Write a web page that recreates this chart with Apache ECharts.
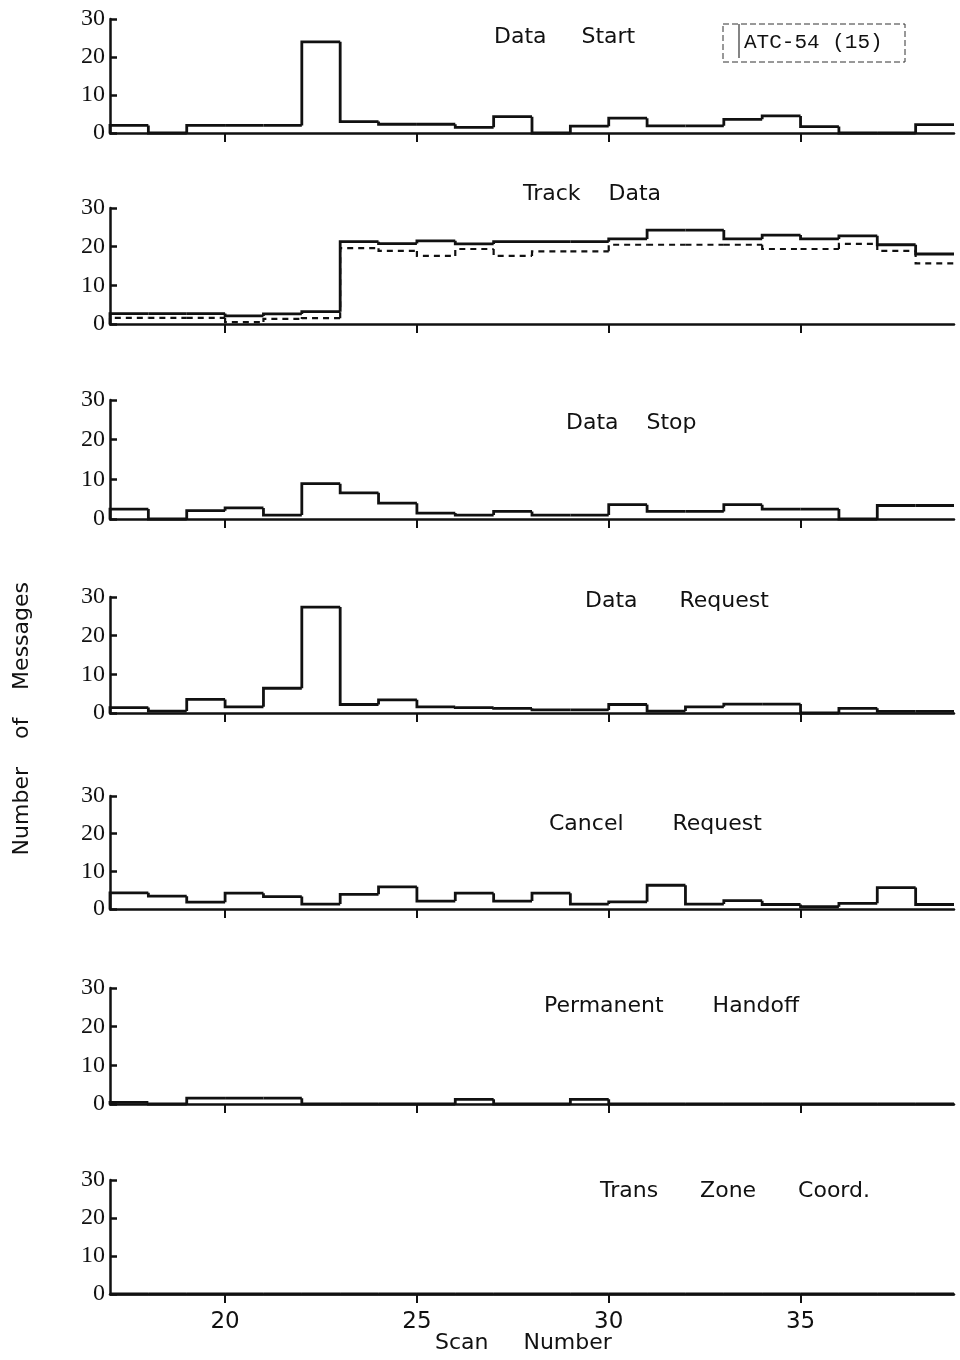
<!DOCTYPE html>
<html>
<head>
<meta charset="utf-8">
<script src="https://cdn.jsdelivr.net/npm/echarts@6/dist/echarts.min.js"></script>
<style>
  html, body { margin: 0; padding: 0; background: #fff; }
  #chart { width: 960px; height: 1360px; }
</style>
</head>
<body>
<div id="chart"></div>
<script>
// Scan bins: each value covers [scan, scan + 1)
const scanNumbers = [17, 18, 19, 20, 21, 22, 23, 24, 25, 26, 27, 28, 29, 30, 31, 32, 33, 34, 35, 36, 37, 38];
const xTickValues = [20, 25, 30, 35];
const yTickValues = [0, 10, 20, 30];

const dataStart        = [2, 0, 2, 2, 2, 24, 3, 2.3, 2.3, 1.5, 4.3, 0, 1.8, 3.9, 1.9, 1.9, 3.6, 4.5, 1.7, 0, 0, 2.2];
const trackDataSolid   = [2.7, 2.7, 2.7, 2.1, 2.6, 3.2, 21.3, 20.8, 21.5, 20.7, 21.3, 21.3, 21.3, 22, 24.3, 24.3, 22, 23, 22, 22.8, 20.5, 18.1];
const trackDataDashed  = [1.6, 1.6, 1.6, 0.5, 1.3, 1.5, 19.6, 18.9, 17.6, 19.4, 17.6, 18.8, 18.8, 20.5, 20.5, 20.5, 20.5, 19.4, 19.4, 20.7, 18.9, 15.7];
const dataStop         = [2.5, 0, 2.1, 2.8, 1.0, 8.9, 6.6, 4.0, 1.5, 1.0, 1.9, 1.0, 1.0, 3.6, 1.9, 1.9, 3.6, 2.5, 2.5, 0, 3.4, 3.4];
const dataRequest      = [1.4, 0.5, 3.5, 1.6, 6.4, 27.4, 2.2, 3.4, 1.6, 1.4, 1.2, 0.8, 0.8, 2.2, 0.5, 1.6, 2.3, 2.3, 0, 1.2, 0.4, 0.4];
const cancelRequest    = [4.3, 3.4, 1.8, 4.2, 3.3, 1.3, 3.9, 5.9, 2.1, 4.2, 2.1, 4.2, 1.3, 1.9, 6.3, 1.3, 2.2, 1.2, 0.6, 1.5, 5.7, 1.2];
const permanentHandoff = [0.4, 0, 1.5, 1.5, 1.5, 0, 0, 0, 0, 1.2, 0, 0, 1.2, 0, 0, 0, 0, 0, 0, 0, 0, 0];
const transZoneCoord   = [0, 0, 0, 0, 0, 0, 0, 0, 0, 0, 0, 0, 0, 0, 0, 0, 0, 0, 0, 0, 0, 0];

const panelTitles = ['Data     Start', 'Track    Data', 'Data    Stop', 'Data      Request', 'Cancel       Request', 'Permanent       Handoff', 'Trans      Zone      Coord.'];
const panelSeries = [[dataStart], [trackDataSolid, trackDataDashed], [dataStop], [dataRequest], [cancelRequest], [permanentHandoff], [transZoneCoord]];

// Pixel layout of each panel: y of the 30 line and y of the 0 line
const panelTop    = [19, 208, 400, 597, 796, 988, 1180];
const panelBottom = [133, 324, 519, 713, 909, 1104, 1294];
const titlePos    = [[489, 21], [518, 178], [561, 407], [580, 585], [544, 808], [539, 990], [595, 1175]];

const INK = '#111';
const GRID_LEFT = 110, GRID_RIGHT = 6;

// One outline piece per bin: rise/fall at the bin's left edge, then across its top
function binItems(values) {
  return scanNumbers.map((s, i) => [s, s + 1, values[i], i > 0 ? values[i - 1] : 0]);
}

function makeRenderer(dashed) {
  return function (params, api) {
    const x0 = api.value(0), x1 = api.value(1), v = api.value(2), prev = api.value(3);
    return {
      type: 'polyline',
      shape: { points: [api.coord([x0, prev]), api.coord([x0, v]), api.coord([x1, v])] },
      style: {
        fill: 'none', stroke: INK,
        lineWidth: dashed ? 2.2 : 2.8,
        lineDash: dashed ? [6, 5] : null,
        lineJoin: 'miter'
      }
    };
  };
}

const grids = [], xAxes = [], yAxes = [], series = [], titles = [];
panelTop.forEach((top, i) => {
  const last = i === panelTop.length - 1;
  grids.push({ left: GRID_LEFT, right: GRID_RIGHT, top: top, height: panelBottom[i] - top });
  xAxes.push({
    type: 'value', gridIndex: i, min: 17, max: 39,
    axisLine: { show: true, lineStyle: { color: INK, width: 2.5 } },
    axisTick: { show: true, inside: false, length: 9, customValues: xTickValues, lineStyle: { color: INK, width: 2 } },
    axisLabel: { show: last, customValues: xTickValues, color: INK, fontFamily: 'DejaVu Sans', fontSize: 23, margin: 17 },
    splitLine: { show: false }
  });
  yAxes.push({
    type: 'value', gridIndex: i, min: 0, max: 30,
    axisLine: { show: true, lineStyle: { color: INK, width: 2.5 } },
    axisTick: { show: true, inside: true, length: 7, customValues: yTickValues, lineStyle: { color: INK, width: 2.5 } },
    axisLabel: { customValues: yTickValues, color: INK, fontFamily: 'Liberation Serif', fontSize: 24, margin: 5 },
    splitLine: { show: false }
  });
  panelSeries[i].forEach((vals, k) => {
    series.push({
      type: 'custom', xAxisIndex: i, yAxisIndex: i,
      encode: { x: [0, 1], y: [2, 3] },
      data: binItems(vals), silent: true, z: k === 0 ? 3 : 2,
      renderItem: makeRenderer(k > 0)
    });
  });
  titles.push({
    text: panelTitles[i], left: titlePos[i][0], top: titlePos[i][1],
    textStyle: { color: INK, fontFamily: 'DejaVu Sans', fontWeight: 'normal', fontSize: 22 }
  });
});

const chart = echarts.init(document.getElementById('chart'), null, { renderer: 'canvas' });
chart.setOption({
  backgroundColor: '#fff',
  animation: false,
  title: titles,
  grid: grids,
  xAxis: xAxes,
  yAxis: yAxes,
  series: series,
  graphic: [
    {
      type: 'text', left: 11, top: 582, rotation: Math.PI / 2,
      style: { text: 'Number    of    Messages', fill: INK, font: '22px "DejaVu Sans"' }
    },
    {
      type: 'text', left: 435, top: 1332,
      style: { text: 'Scan     Number', fill: INK, font: '22px "DejaVu Sans"' }
    },
    {
      type: 'rect', shape: { x: 723, y: 24, width: 182, height: 38 },
      style: { fill: 'none', stroke: '#333', lineWidth: 1, lineDash: [6, 3] }
    },
    {
      type: 'line', shape: { x1: 739, y1: 24, x2: 739, y2: 58 },
      style: { stroke: '#333', lineWidth: 1.2 }
    },
    {
      type: 'text', left: 744, top: 32,
      style: { text: 'ATC-54 (15)', fill: INK, font: '21px "Liberation Mono"' }
    }
  ]
});
</script>
</body>
</html>
